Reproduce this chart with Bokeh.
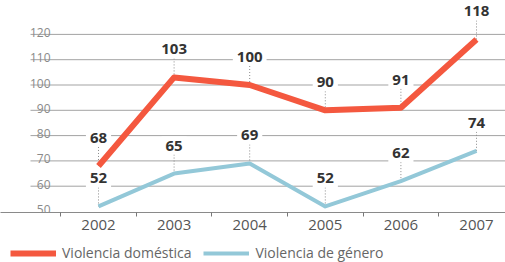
from bokeh.plotting import figure
from bokeh.layouts import column
from bokeh.models import Range1d, FixedTicker, Legend, LegendItem
from bokeh.core.properties import value
from bokeh.embed import file_html
from bokeh.resources import INLINE

# ---- data ----
years = [2002, 2003, 2004, 2005, 2006, 2007]
domestica = [68, 103, 100, 90, 91, 118]
genero = [52, 65, 69, 52, 62, 74]
y_ticks = [50, 60, 70, 80, 90, 100, 110, 120]
series_names = ["Violencia doméstica", "Violencia de género"]

# ---- layout ----
W, H = 505, 262
FRAME_H = 212
AXIS_H = 28
LEG_H = H - FRAME_H - AXIS_H
px_per_year = 75.6
px_per_unit = 2.53
x_start = years[0] - 98 / px_per_year
x_end = x_start + W / px_per_year
y_start = y_ticks[0] - 1 / px_per_unit
y_end = y_start + FRAME_H / px_per_unit
LABEL_PX = 28
label_dy = LABEL_PX / px_per_unit

RED = "#f4583f"
BLUE = "#93c8d8"
FONT = "Open Sans"

p = figure(frame_width=W, frame_height=FRAME_H, output_backend="svg",
           toolbar_location=None, x_range=Range1d(x_start, x_end),
           y_range=Range1d(y_start, y_end), y_axis_location=None,
           min_border_left=0, min_border_right=0, min_border_top=0,
           min_border_bottom=AXIS_H, background_fill_color="white",
           border_fill_color="white", outline_line_color=None)
p.xgrid.visible = False
p.ygrid.visible = False

# gridlines (start a little right of frame left)
grid_vals = [v for v in y_ticks if v != y_ticks[0]]
gx0 = x_start + 30 / px_per_year
p.segment(x0=[gx0] * len(grid_vals), x1=[x_end] * len(grid_vals),
          y0=grid_vals, y1=grid_vals, line_color="#a3a3a3", line_width=1)

# y tick labels sitting on gridlines
p.text(x=[x_start] * len(y_ticks), y=y_ticks, text=[str(v) for v in y_ticks],
       x_offset=50, y_offset=-2, text_align="right", text_baseline="alphabetic",
       text_font=value(FONT), text_font_size="12px", text_color="#8a8a8a")

# dotted leaders
for vals in (domestica, genero):
    p.segment(x0=years, x1=years, y0=vals, y1=[v + label_dy for v in vals],
              line_color="#8a8a8a", line_width=1, line_dash="1 2")

r_blue = p.line(years, genero, line_color=BLUE, line_width=4, line_join="round")
r_red = p.line(years, domestica, line_color=RED, line_width=6, line_join="round")

# value labels
for vals in (domestica, genero):
    p.text(x=years, y=vals, text=[str(v) for v in vals], y_offset=-LABEL_PX,
           text_align="center", text_baseline="middle", text_font=value(FONT),
           text_font_size="15px", text_font_style="bold", text_color="#333333",
           background_fill_color="white", padding=4)

# x axis
ax = p.xaxis[0]
ax.ticker = FixedTicker(ticks=years, minor_ticks=[y - 0.5 for y in years])
ax.axis_line_color = "#8a8a8a"
ax.major_tick_line_color = None
ax.major_tick_out = 0
ax.major_tick_in = 0
ax.minor_tick_line_color = "#777777"
ax.minor_tick_out = 4
ax.minor_tick_in = 0
ax.major_label_standoff = 3
ax.major_label_text_font = FONT
ax.major_label_text_font_size = "15px"
ax.major_label_text_color = "#555555"

# ---- legend strip ----
lf = figure(frame_width=W, frame_height=LEG_H, output_backend="svg",
            toolbar_location=None, x_range=Range1d(0, 1), y_range=Range1d(0, 1),
            x_axis_location=None, y_axis_location=None,
            min_border_left=0, min_border_right=0, min_border_top=0,
            min_border_bottom=0, outline_line_color=None,
            background_fill_color="white", border_fill_color="white")
lf.xgrid.visible = False
lf.ygrid.visible = False
# off-range proxy renderers, only used for the legend swatches
l_red = lf.line([-5, -4], [-5, -5], line_color=RED, line_width=6)
l_blue = lf.line([-5, -4], [-5, -5], line_color=BLUE, line_width=4)
legend = Legend(items=[LegendItem(label=series_names[0], renderers=[l_red]),
                       LegendItem(label=series_names[1], renderers=[l_blue])],
                orientation="horizontal", location=(10, 0),
                glyph_width=46, glyph_height=14, label_standoff=6, spacing=12,
                padding=0, margin=0, border_line_color=None,
                background_fill_alpha=0, label_text_font=FONT,
                label_text_font_size="14px", label_text_color="#666666",
                label_height=14)
lf.add_layout(legend, "center")

layout = column(p, lf, spacing=0)
open("out.html", "w").write(file_html(layout, INLINE))
